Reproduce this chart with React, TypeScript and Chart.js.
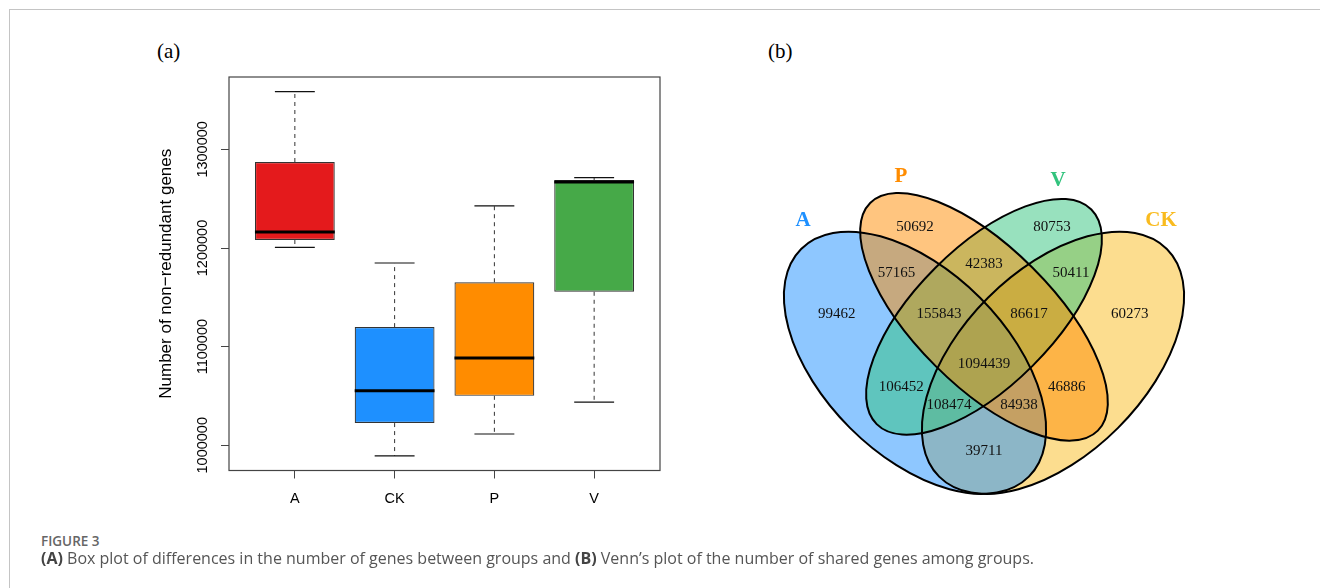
import React, { useEffect, useRef } from 'react';
import { Chart, registerables } from 'chart.js';

Chart.register(...registerables);

// ---------- Box plot data (a) ----------
const groups = ['A', 'CK', 'P', 'V'];
const boxMin = [1200600, 989200, 1011400, 1043700];
const boxQ1 = [1208100, 1022500, 1050100, 1155600];
const boxMedian = [1216200, 1055200, 1088500, 1267000];
const boxQ3 = [1287200, 1119800, 1165300, 1269000];
const boxMax = [1358600, 1184800, 1242700, 1271300];
const yTicks = [1000000, 1100000, 1200000, 1300000];

// ---------- Venn data (b) ----------
const vennSets = ['A', 'P', 'V', 'CK'];
const vennRegions = [
  'P', 'V', 'A∩P', 'P∩V', 'V∩CK',
  'A', 'A∩P∩V', 'P∩V∩CK', 'CK',
  'A∩P∩V∩CK', 'A∩V', 'P∩CK', 'A∩V∩CK', 'A∩P∩CK', 'A∩CK',
];
const vennCounts = [
  50692, 80753, 57165, 42383, 50411,
  99462, 155843, 86617, 60273,
  1094439, 106452, 46886, 108474, 84938, 39711,
];

// ---------- Styles / layout (kept apart from data) ----------
const boxColors = ['#E41A1C', '#1E90FF', '#FF8C00', '#46A948'];
const setColors: Record<string, string> = {
  A: '#1E90FF',
  P: '#FF8C00',
  V: '#32C37D',
  CK: '#F9BB1F',
};
// Venn layout in unit coordinates (VennDiagram-style quad layout)
const vennEllipses = [
  { set: 'CK', cx: 0.65, cy: 0.47, a: 0.35, b: 0.2, rot: 45 },
  { set: 'A', cx: 0.35, cy: 0.47, a: 0.35, b: 0.2, rot: 135 },
  { set: 'V', cx: 0.5, cy: 0.57, a: 0.33, b: 0.15, rot: 45 },
  { set: 'P', cx: 0.5, cy: 0.57, a: 0.35, b: 0.15, rot: 135 },
];
const vennRegionX = [0.35, 0.648, 0.31, 0.5, 0.689, 0.18, 0.402, 0.598, 0.817, 0.5, 0.32, 0.68, 0.424, 0.576, 0.5];
const vennRegionY = [0.765, 0.765, 0.665, 0.685, 0.665, 0.576, 0.576, 0.576, 0.576, 0.467, 0.417, 0.417, 0.378, 0.378, 0.278];
const vennSetX = [0.1065, 0.3196, 0.661, 0.885];
const vennSetY = [0.78, 0.874, 0.867, 0.78];

const sansFont = 'Liberation Sans';
const serifFont = 'Liberation Serif';

const framePlugin = {
  id: 'frame',
  afterDatasetsDraw(chart: any) {
    const { ctx, chartArea } = chart;
    ctx.save();
    ctx.strokeStyle = '#444';
    ctx.lineWidth = 1.2;
    ctx.strokeRect(chartArea.left, chartArea.top, chartArea.right - chartArea.left, chartArea.bottom - chartArea.top);
    ctx.restore();
  },
};

function boxConfig(): any {
  const whiskers: any[] = [];
  const caps: any[] = [];
  const medians: any[] = [];
  groups.forEach((_, i) => {
    const x = i + 1;
    whiskers.push({ x, y: boxQ3[i] }, { x, y: boxMax[i] }, { x, y: null });
    whiskers.push({ x, y: boxQ1[i] }, { x, y: boxMin[i] }, { x, y: null });
    caps.push({ x: x - 0.2, y: boxMax[i] }, { x: x + 0.2, y: boxMax[i] }, { x, y: null });
    caps.push({ x: x - 0.2, y: boxMin[i] }, { x: x + 0.2, y: boxMin[i] }, { x, y: null });
    medians.push({ x: x - 0.4, y: boxMedian[i] }, { x: x + 0.4, y: boxMedian[i] }, { x, y: null });
  });
  const tickFont = { family: sansFont, size: 14.5 };
  return {
    type: 'bar',
    data: {
      datasets: [
        {
          type: 'line',
          data: whiskers,
          borderColor: '#333',
          borderWidth: 1,
          borderDash: [4, 4],
          pointRadius: 0,
          spanGaps: false,
          order: 4,
        },
        {
          type: 'line',
          data: caps,
          borderColor: '#111',
          borderWidth: 1.2,
          pointRadius: 0,
          spanGaps: false,
          order: 3,
        },
        {
          type: 'bar',
          data: groups.map((_, i) => ({ x: i + 1, y: [boxQ1[i], boxQ3[i]] })),
          backgroundColor: boxColors,
          borderColor: '#333',
          borderWidth: 1.2,
          borderSkipped: false,
          categoryPercentage: 1,
          barPercentage: 0.8,
          order: 2,
        },
        {
          type: 'line',
          data: medians,
          borderColor: '#000',
          borderWidth: 3,
          borderCapStyle: 'butt',
          pointRadius: 0,
          spanGaps: false,
          order: 1,
        },
      ],
    },
    options: {
      responsive: false,
      animation: false,
      layout: { padding: { left: 0, right: 20, top: 17, bottom: 0 } },
      plugins: { legend: { display: false }, tooltip: { enabled: false } },
      scales: {
        x: {
          type: 'linear',
          min: 0.34,
          max: 4.66,
          offset: false,
          afterBuildTicks: (s: any) => {
            s.ticks = groups.map((_, i) => ({ value: i + 1 }));
          },
          afterFit: (s: any) => {
            s.height = 59.5;
          },
          ticks: {
            callback: (_v: any, i: number) => groups[i],
            minRotation: 0,
            maxRotation: 0,
            autoSkip: false,
            padding: 12,
            font: tickFont,
            color: '#000',
          },
          grid: { display: true, drawOnChartArea: false, drawTicks: true, tickLength: 8, color: '#444', lineWidth: 1, offset: false },
          border: { display: false },
        },
        y: {
          type: 'linear',
          min: 974400,
          max: 1373400,
          afterBuildTicks: (s: any) => {
            s.ticks = yTicks.map((v) => ({ value: v }));
          },
          afterFit: (s: any) => {
            s.width = 89;
          },
          ticks: {
            callback: (v: any) => String(v),
            minRotation: 90,
            maxRotation: 90,
            crossAlign: 'center',
            autoSkip: false,
            padding: -10,
            font: tickFont,
            color: '#000',
          },
          grid: { display: true, drawOnChartArea: false, drawTicks: true, tickLength: 8, color: '#444', lineWidth: 1 },
          border: { display: false },
          title: {
            display: true,
            text: 'Number of non−redundant genes',
            font: { family: sansFont, size: 17 },
            color: '#000',
            padding: { top: 16, bottom: 0 },
          },
        },
      },
    },
    plugins: [framePlugin],
  };
}

const vennPlugin = {
  id: 'venn',
  beforeDatasetsDraw(chart: any) {
    const { ctx, scales } = chart;
    const xs = scales.x;
    const ys = scales.y;
    const shapes = vennEllipses.map((e) => {
      const px = xs.getPixelForValue(e.cx);
      const py = ys.getPixelForValue(e.cy);
      const rx = Math.abs(xs.getPixelForValue(e.cx + e.a) - px);
      const ry = Math.abs(ys.getPixelForValue(e.cy + e.b) - py);
      return { px, py, rx, ry, ang: (-e.rot * Math.PI) / 180, color: setColors[e.set] };
    });
    ctx.save();
    ctx.globalAlpha = 0.5;
    shapes.forEach((s) => {
      ctx.beginPath();
      ctx.ellipse(s.px, s.py, s.rx, s.ry, s.ang, 0, Math.PI * 2);
      ctx.fillStyle = s.color;
      ctx.fill();
    });
    ctx.globalAlpha = 1;
    ctx.lineWidth = 2;
    ctx.strokeStyle = '#000';
    shapes.forEach((s) => {
      ctx.beginPath();
      ctx.ellipse(s.px, s.py, s.rx, s.ry, s.ang, 0, Math.PI * 2);
      ctx.stroke();
    });
    ctx.restore();
  },
  afterDatasetsDraw(chart: any) {
    const { ctx } = chart;
    ctx.save();
    ctx.textAlign = 'center';
    ctx.textBaseline = 'middle';
    const regionMeta = chart.getDatasetMeta(0);
    ctx.font = `15px "${serifFont}"`;
    ctx.fillStyle = '#111';
    regionMeta.data.forEach((pt: any, i: number) => {
      ctx.fillText(String(vennCounts[i]), pt.x, pt.y);
    });
    const setMeta = chart.getDatasetMeta(1);
    ctx.font = `bold 21px "${serifFont}"`;
    setMeta.data.forEach((pt: any, i: number) => {
      ctx.fillStyle = setColors[vennSets[i]];
      ctx.fillText(vennSets[i], pt.x, pt.y);
    });
    ctx.restore();
  },
};

function vennConfig(): any {
  return {
    type: 'scatter',
    data: {
      datasets: [
        {
          label: 'regions',
          data: vennRegions.map((_, i) => ({ x: vennRegionX[i], y: vennRegionY[i] })),
          pointRadius: 0,
        },
        {
          label: 'sets',
          data: vennSets.map((_, i) => ({ x: vennSetX[i], y: vennSetY[i] })),
          pointRadius: 0,
        },
      ],
    },
    options: {
      responsive: false,
      animation: false,
      layout: { padding: 0 },
      plugins: { legend: { display: false }, tooltip: { enabled: false } },
      scales: {
        x: { type: 'linear', min: 0, max: 1, display: false },
        y: { type: 'linear', min: 0, max: 1, display: false },
      },
    },
    plugins: [vennPlugin],
  };
}

export default function App() {
  const boxRef = useRef<HTMLCanvasElement>(null);
  const vennRef = useRef<HTMLCanvasElement>(null);

  useEffect(() => {
    const c1 = new Chart(boxRef.current as HTMLCanvasElement, boxConfig());
    const c2 = new Chart(vennRef.current as HTMLCanvasElement, vennConfig());
    return () => {
      c1.destroy();
      c2.destroy();
    };
  }, []);

  return (
    <div
      style={{
        position: 'fixed',
        left: 0,
        top: 0,
        width: 1320,
        height: 588,
        background: '#fff',
        overflow: 'hidden',
      }}
    >
      <div style={{ position: 'absolute', left: 9, top: 9, right: 0, height: 0, borderTop: '1px solid #c4c4c4' }} />
      <div style={{ position: 'absolute', left: 9, top: 9, bottom: 0, width: 0, borderLeft: '1px solid #c4c4c4' }} />
      <div
        style={{
          position: 'absolute',
          left: 157,
          top: 41,
          font: `21px "${serifFont}"`,
          lineHeight: '21px',
          color: '#000',
          whiteSpace: 'nowrap',
        }}
      >
        (a)
      </div>
      <div
        style={{
          position: 'absolute',
          left: 768,
          top: 41,
          font: `21px "${serifFont}"`,
          lineHeight: '21px',
          color: '#000',
          whiteSpace: 'nowrap',
        }}
      >
        (b)
      </div>
      <canvas ref={boxRef} width={540} height={470} style={{ position: 'absolute', left: 140, top: 60 }} />
      <canvas ref={vennRef} width={460} height={460} style={{ position: 'absolute', left: 754, top: 119 }} />
      <div
        style={{
          position: 'absolute',
          left: 41,
          top: 532,
          font: '600 13.5px "Open Sans"',
          lineHeight: '18px',
          color: '#666',
          whiteSpace: 'nowrap',
        }}
      >
        FIGURE 3
      </div>
      <div
        style={{
          position: 'absolute',
          left: 41,
          top: 547,
          font: '16px "Open Sans"',
          lineHeight: '22px',
          color: '#555',
          whiteSpace: 'nowrap',
        }}
      >
        <b style={{ color: '#444' }}>(A)</b> Box plot of differences in the number of genes between groups and{' '}
        <b style={{ color: '#444' }}>(B)</b> Venn’s plot of the number of shared genes among groups.
      </div>
    </div>
  );
}
